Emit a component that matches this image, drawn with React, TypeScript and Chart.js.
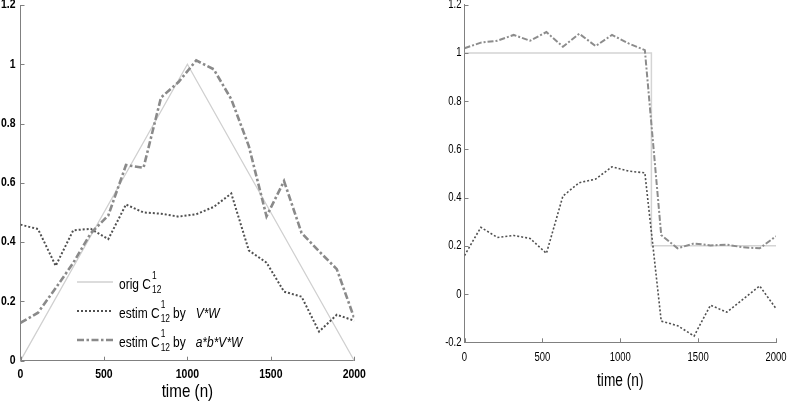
import React, { useEffect, useRef } from 'react';
import { Chart, registerables } from 'chart.js';

Chart.register(...registerables);

// ---------------- data ----------------
const timeSamples = [0, 105, 211, 316, 421, 526, 632, 737, 842, 947, 1053, 1158, 1263, 1368, 1474, 1579, 1684, 1789, 1895, 2000];

// left panel
const leftOrigTime = [0, 1000, 2000];
const leftOrigValues = [0, 1, 0];
const leftVW = [0.459, 0.444, 0.32, 0.44, 0.445, 0.41, 0.527, 0.5, 0.496, 0.486, 0.494, 0.519, 0.564, 0.372, 0.331, 0.233, 0.216, 0.098, 0.155, 0.135];
const leftABVW = [0.128, 0.162, 0.245, 0.33, 0.43, 0.49, 0.66, 0.651, 0.888, 0.94, 1.013, 0.983, 0.882, 0.724, 0.487, 0.606, 0.431, 0.369, 0.309, 0.143];

// right panel
const rightOrigTime = [0, 1200, 1200, 2000];
const rightOrigValues = [1, 1, 0.2, 0.2];
const rightVW = [0.16, 0.277, 0.235, 0.243, 0.231, 0.169, 0.407, 0.462, 0.477, 0.528, 0.51, 0.503, -0.112, -0.131, -0.174, -0.046, -0.075, -0.021, 0.034, -0.06];
const rightABVW = [1.02, 1.043, 1.051, 1.075, 1.051, 1.087, 1.026, 1.08, 1.029, 1.075, 1.04, 1.012, 0.245, 0.19, 0.21, 0.202, 0.205, 0.194, 0.19, 0.24];

// ticks / labels
const xTicks = [0, 500, 1000, 1500, 2000];
const xTickLabels = ['0', '500', '1000', '1500', '2000'];
const leftYTicks = [0, 0.2, 0.4, 0.6, 0.8, 1, 1.2];
const leftYTickLabels = ['0', '0.2', '0.4', '0.6', '0.8', '1', '1.2'];
const rightYTicks = [-0.2, 0, 0.2, 0.4, 0.6, 0.8, 1, 1.2];
const rightYTickLabels = ['-0.2', '0', '0.2', '0.4', '0.6', '0.8', '1', '1.2'];
const xAxisTitle = 'time (n)';

const legendOrig = { main: 'orig C', sup: '1', sub: '12', by: '', italic: '' };
const legendVW = { main: 'estim C', sup: '1', sub: '12', by: 'by', italic: 'V*W' };
const legendABVW = { main: 'estim C', sup: '1', sub: '12', by: 'by', italic: 'a*b*V*W' };

// ---------------- styling ----------------
const FONT = "'Liberation Sans', Arial, sans-serif";
const AXIS_COLOR = '#808080';

type Geo = {
  width: number;
  height: number;
  area: { left: number; right: number; top: number; bottom: number };
  yMin: number;
  yMax: number;
  yTicks: number[];
  yTickLabels: string[];
  tickFont: string;
  squeeze: number;
  yLabelRight: number;
  xLabelY: number;
  titleFont: string;
  titleSqueeze: number;
  titleY: number;
  styles: { orig: any; vw: any; abvw: any };
  legend: boolean;
};

const leftGeo: Geo = {
  width: 390,
  height: 403,
  area: { left: 20.5, right: 354.3, top: 5, bottom: 360.7 },
  yMin: 0,
  yMax: 1.2,
  yTicks: leftYTicks,
  yTickLabels: leftYTickLabels,
  tickFont: `bold 12px ${FONT}`,
  squeeze: 0.87,
  yLabelRight: 15.5,
  xLabelY: 375,
  titleFont: `19px ${FONT}`,
  titleSqueeze: 0.8,
  titleY: 397,
  styles: {
    orig: { borderColor: '#d0d0d0', borderWidth: 1.3, borderDash: [] },
    vw: { borderColor: '#505050', borderWidth: 2, borderDash: [2, 2] },
    abvw: { borderColor: '#8a8a8a', borderWidth: 2.6, borderDash: [7, 2.5, 2.5, 2.5] },
  },
  legend: true,
};

const rightGeo: Geo = {
  width: 397,
  height: 403,
  area: { left: 74.5, right: 386, top: 4.8, bottom: 342.3 },
  yMin: -0.2,
  yMax: 1.2,
  yTicks: rightYTicks,
  yTickLabels: rightYTickLabels,
  tickFont: `12.5px ${FONT}`,
  squeeze: 0.76,
  yLabelRight: 71.5,
  xLabelY: 357.5,
  titleFont: `18px ${FONT}`,
  titleSqueeze: 0.76,
  titleY: 386,
  styles: {
    orig: { borderColor: '#d4d4d4', borderWidth: 1.5, borderDash: [] },
    vw: { borderColor: '#505050', borderWidth: 1.6, borderDash: [2, 2] },
    abvw: { borderColor: '#8c8c8c', borderWidth: 2, borderDash: [6, 2, 2, 2] },
  },
  legend: false,
};

function pts(xs: number[], ys: number[]) {
  return xs.map((x, i) => ({ x, y: ys[i] }));
}

// draw horizontally condensed text; returns its drawn width
function squeezedText(ctx: CanvasRenderingContext2D, text: string, x: number, y: number, font: string, sx: number, align: CanvasTextAlign, baseline: CanvasTextBaseline) {
  ctx.save();
  ctx.font = font;
  ctx.textAlign = align;
  ctx.textBaseline = baseline;
  ctx.translate(x, y);
  ctx.scale(sx, 1);
  ctx.fillText(text, 0, 0);
  const w = ctx.measureText(text).width * sx;
  ctx.restore();
  return w;
}

function drawLegendItem(ctx: CanvasRenderingContext2D, item: any, style: any, y: number) {
  const sx = 0.8;
  ctx.save();
  ctx.strokeStyle = style.borderColor;
  ctx.lineWidth = style.borderWidth;
  ctx.setLineDash(style.borderDash);
  ctx.beginPath();
  ctx.moveTo(77, y);
  ctx.lineTo(113, y);
  ctx.stroke();
  ctx.setLineDash([]);
  ctx.fillStyle = '#000';
  const base = y + 7;
  let x = 119;
  const mainF = `15px ${FONT}`;
  const scriptF = `10.5px ${FONT}`;
  x += squeezedText(ctx, item.main, x, base, mainF, sx, 'left', 'alphabetic') + 1;
  const w1 = squeezedText(ctx, item.sup, x, base - 10, scriptF, sx, 'left', 'alphabetic');
  const w2 = squeezedText(ctx, item.sub, x, base + 4, scriptF, sx, 'left', 'alphabetic');
  x += Math.max(w1, w2);
  if (item.by) {
    x += 3;
    x += squeezedText(ctx, item.by, x, base, mainF, sx, 'left', 'alphabetic') + 10;
    squeezedText(ctx, item.italic, x, base, `italic ${mainF}`, sx, 'left', 'alphabetic');
  }
  ctx.restore();
}

function buildConfig(geo: Geo, origX: number[], origY: number[], vw: number[], abvw: number[]): any {
  const fitY = (scale: any) => {
    scale.width = geo.area.left;
    scale.paddingTop = 0;
    scale.paddingBottom = 0;
    scale.paddingLeft = 0;
    scale.paddingRight = 0;
  };
  const fitX = (scale: any) => {
    scale.height = geo.height - geo.area.bottom;
    scale.paddingTop = 0;
    scale.paddingBottom = 0;
    scale.paddingLeft = 0;
    scale.paddingRight = 0;
  };
  const overlay = {
    id: 'overlay',
    afterDraw(chart: any) {
      const ctx: CanvasRenderingContext2D = chart.ctx;
      const xs = chart.scales.x;
      const ys = chart.scales.y;
      const a = chart.chartArea;
      ctx.save();
      ctx.strokeStyle = AXIS_COLOR;
      ctx.lineWidth = 1;
      ctx.beginPath();
      xTicks.forEach((v) => {
        const px = Math.round(xs.getPixelForValue(v)) + 0.5;
        ctx.moveTo(px, a.bottom);
        ctx.lineTo(px, a.bottom - 4);
      });
      geo.yTicks.forEach((v) => {
        const py = Math.round(ys.getPixelForValue(v)) + 0.5;
        ctx.moveTo(a.left, py);
        ctx.lineTo(a.left + 4, py);
      });
      ctx.stroke();
      ctx.fillStyle = '#000';
      xTicks.forEach((v, i) => {
        squeezedText(ctx, xTickLabels[i], xs.getPixelForValue(v), geo.xLabelY, geo.tickFont, geo.squeeze, 'center', 'middle');
      });
      geo.yTicks.forEach((v, i) => {
        squeezedText(ctx, geo.yTickLabels[i], geo.yLabelRight, ys.getPixelForValue(v), geo.tickFont, geo.squeeze, 'right', 'middle');
      });
      squeezedText(ctx, xAxisTitle, (a.left + a.right) / 2, geo.titleY, geo.titleFont, geo.titleSqueeze, 'center', 'alphabetic');
      ctx.restore();
      if (geo.legend) {
        drawLegendItem(ctx, legendOrig, geo.styles.orig, 282);
        drawLegendItem(ctx, legendVW, geo.styles.vw, 311);
        drawLegendItem(ctx, legendABVW, geo.styles.abvw, 340);
      }
    },
  };
  return {
    type: 'line',
    data: {
      datasets: [
        { label: 'abvw', data: pts(timeSamples, abvw), ...geo.styles.abvw, pointRadius: 0, tension: 0, fill: false, borderCapStyle: 'butt' },
        { label: 'vw', data: pts(timeSamples, vw), ...geo.styles.vw, pointRadius: 0, tension: 0, fill: false, borderCapStyle: 'butt' },
        { label: 'orig', data: pts(origX, origY), ...geo.styles.orig, pointRadius: 0, tension: 0, fill: false },
      ],
    },
    options: {
      animation: false,
      responsive: false,
      maintainAspectRatio: false,
      devicePixelRatio: 1,
      layout: {
        padding: { left: 0, top: geo.area.top, right: geo.width - geo.area.right, bottom: 0 },
      },
      plugins: { legend: { display: false }, tooltip: { enabled: false }, title: { display: false } },
      scales: {
        x: {
          type: 'linear',
          min: 0,
          max: 2000,
          afterBuildTicks: (s: any) => {
            s.ticks = xTicks.map((v) => ({ value: v }));
          },
          afterFit: fitX,
          grid: { display: false, drawTicks: false },
          border: { display: true, color: AXIS_COLOR, width: 1 },
          ticks: { display: false },
        },
        y: {
          type: 'linear',
          min: geo.yMin,
          max: geo.yMax,
          afterBuildTicks: (s: any) => {
            s.ticks = geo.yTicks.map((v) => ({ value: v }));
          },
          afterFit: fitY,
          grid: { display: false, drawTicks: false },
          border: { display: true, color: AXIS_COLOR, width: 1 },
          ticks: { display: false },
        },
      },
    },
    plugins: [overlay],
  };
}

function Panel({ geo, origX, origY, vw, abvw, left }: any) {
  const ref = useRef<HTMLCanvasElement | null>(null);
  useEffect(() => {
    if (!ref.current) return;
    const chart = new Chart(ref.current, buildConfig(geo, origX, origY, vw, abvw));
    return () => chart.destroy();
  }, []);
  return (
    <div style={{ position: 'absolute', left, top: 0, width: geo.width, height: geo.height }}>
      <canvas ref={ref} width={geo.width} height={geo.height} style={{ width: geo.width, height: geo.height, display: 'block' }} />
    </div>
  );
}

export default function App() {
  useEffect(() => {
    document.body.style.margin = '0';
    document.body.style.background = '#fff';
  }, []);
  return (
    <div style={{ position: 'relative', width: 787, height: 403, background: '#fff', overflow: 'hidden' }}>
      <Panel geo={leftGeo} origX={leftOrigTime} origY={leftOrigValues} vw={leftVW} abvw={leftABVW} left={0} />
      <Panel geo={rightGeo} origX={rightOrigTime} origY={rightOrigValues} vw={rightVW} abvw={rightABVW} left={390} />
    </div>
  );
}
